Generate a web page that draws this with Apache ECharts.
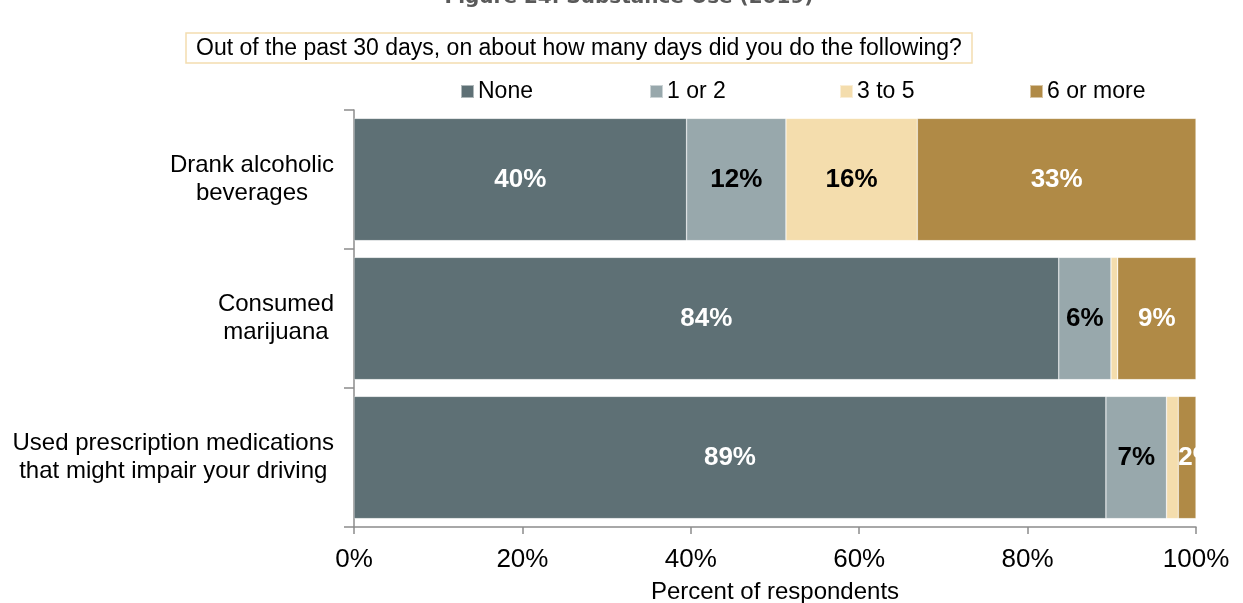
<!DOCTYPE html>
<html>
<head>
<meta charset="utf-8">
<style>
  html, body { margin: 0; padding: 0; background: #fff; }
  #chart { width: 1243px; height: 603px; }
</style>
<script src="https://cdn.jsdelivr.net/npm/echarts@6/dist/echarts.min.js"></script>
</head>
<body>
<div id="chart"></div>
<script>
// Behaviours asked about
const categories = [
  'Drank alcoholic\nbeverages',
  'Consumed\nmarijuana',
  'Used prescription medications\nthat might impair your driving'
];

// Share of respondents (%) by number of days in the past 30
const seriesNames = ['None', '1 or 2', '3 to 5', '6 or more'];
const noneValues = [39.5, 83.7, 89.3];
const oneTwoValues = [11.8, 6.2, 7.2];
const threeFiveValues = [15.6, 0.8, 1.4];
const sixPlusValues = [33.1, 9.3, 2.1];

const xTicks = [0, 20, 40, 60, 80, 100];

const colors = ['#5E7075', '#98A8AC', '#F4DDAD', '#B08A46'];
const labelColors = ['#fff', '#000', '#000', '#fff'];
const allValues = [noneValues, oneTwoValues, threeFiveValues, sixPlusValues];
const FONT = 'Liberation Sans, Arial, sans-serif';

const chart = echarts.init(document.getElementById('chart'));

function makeSeries(i) {
  return {
    name: seriesNames[i],
    type: 'bar',
    stack: 'total',
    barCategoryGap: '12%',
    itemStyle: { color: colors[i], borderColor: 'rgba(255,255,255,0.5)', borderWidth: 0.6 },
    label: {
      show: true,
      position: 'inside',
      color: labelColors[i],
      fontFamily: FONT,
      fontWeight: 'bold',
      fontSize: 26,
      formatter: p => (p.value >= 1.5 ? Math.round(p.value) + '%' : '')
    },
    data: allValues[i].map(v => {
      // narrow end segment: its label starts at the segment's left edge
      if (i === 3 && v < 3) {
        return { value: v, label: { position: 'insideLeft', distance: 0 } };
      }
      return v;
    })
  };
}

const legendX = [455, 644, 834, 1024];
const legends = seriesNames.map((n, i) => ({
  data: [n],
  left: legendX[i],
  top: 75,
  itemWidth: 13,
  itemHeight: 13,
  itemGap: 0,
  icon: 'rect',
  selectedMode: false,
  textStyle: {
    fontFamily: FONT,
    fontSize: 23,
    color: '#000',
    padding: [0, 0, 0, -1]
  }
}));

const titleText = {
  type: 'text',
  x: 629,
  y: -12,
  style: {
    text: 'Figure 24. Substance Use (2019)',
    align: 'center',
    verticalAlign: 'top',
    fontFamily: 'DejaVu Sans, Verdana, sans-serif',
    fontWeight: 'bold',
    fontSize: 20,
    fill: '#595959'
  }
};

const option = {
  animation: false,
  color: colors,
  title: {
    text: 'Out of the past 30 days, on about how many days did you do the following?',
    left: 186,
    top: 33,
    padding: [4, 10, 3, 10],
    borderColor: '#F3DDB0',
    borderWidth: 1.5,
    textStyle: {
      fontFamily: FONT,
      fontSize: 23,
      fontWeight: 'normal',
      color: '#000'
    }
  },
  graphic: [titleText],
  legend: legends,
  grid: {
    left: 354, right: 47, top: 110, bottom: 76,
    containLabel: false,
    outerBoundsMode: 'none'
  },
  xAxis: {
    type: 'value',
    min: xTicks[0],
    max: xTicks[xTicks.length - 1],
    interval: 20,
    name: 'Percent of respondents',
    nameLocation: 'middle',
    nameGap: 53,
    nameTextStyle: { fontFamily: FONT, fontSize: 24, color: '#000' },
    axisLine: { show: true, lineStyle: { color: '#8C8C8C', width: 1.5 } },
    axisTick: { show: true, length: 7, lineStyle: { color: '#8C8C8C', width: 1.5 } },
    splitLine: { show: false },
    axisLabel: {
      formatter: v => v + '%',
      fontFamily: FONT,
      fontSize: 26,
      color: '#000',
      margin: 20
    }
  },
  yAxis: {
    type: 'category',
    inverse: true,
    data: categories,
    axisLine: { show: true, lineStyle: { color: '#8C8C8C', width: 1.5 } },
    axisTick: { show: true, length: 10, lineStyle: { color: '#8C8C8C', width: 1.5 } },
    axisLabel: {
      margin: 20,
      color: '#000',
      formatter: v => v.split('\n').map(s => '{c|' + s + '}').join('\n'),
      rich: {
        c: {
          align: 'center',
          fontFamily: FONT,
          fontSize: 24,
          lineHeight: 28,
          color: '#000'
        }
      }
    }
  },
  series: [0, 1, 2, 3].map(makeSeries)
};

chart.setOption(option);

// The plot area ends at 100%: anything drawn past it (an overflowing label) is
// hidden behind a white panel along the right margin.
const edgeX = chart.convertToPixel({ xAxisIndex: 0 }, xTicks[xTicks.length - 1]);
chart.setOption({
  graphic: [titleText, {
    type: 'rect',
    z: 100,
    silent: true,
    shape: { x: edgeX + 1, y: 110, width: 1243 - edgeX, height: 603 - 110 - 76 },
    style: { fill: '#fff' }
  }]
});
</script>
</body>
</html>
